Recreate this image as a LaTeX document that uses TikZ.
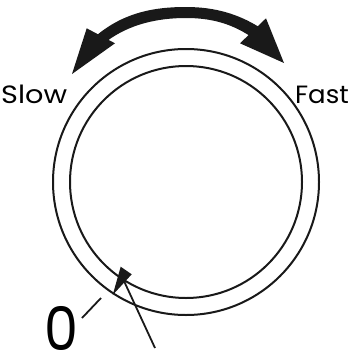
\documentclass[tikz,border=0pt]{standalone}
\usepackage{fontspec}
\setmainfont{Poppins}
\begin{document}
\begin{tikzpicture}[x=1pt,y=-1pt,
  ring/.style={draw=black!90,line width=2pt},
  solidfill/.style={fill=black!90,draw=none},
  thinline/.style={draw=black!90,line width=1.8pt},
  lbl/.style={inner sep=0pt,font=\fontsize{25}{25}\selectfont}]
\useasboundingbox (0,0) rectangle (351,356);
% dial
\coordinate (c) at (186,182);
\draw[ring] (c) circle[radius=133];
\draw[ring] (c) circle[radius=116];
% double arrow
\fill[solidfill] (97,35) .. controls (125,12) and (155,7) .. (186,7)
  .. controls (215,7) and (238,14) .. (259,27) -- (250,36)
  .. controls (230,23) and (210,18) .. (186,18)
  .. controls (158,18) and (130,24) .. (107,41) -- cycle;
\fill[solidfill] (72,74) -- (86.7,28.3) -- (115,43.3) -- cycle;
\fill[solidfill] (284,63) -- (266,18.3) -- (240,43.3) -- cycle;
% labels
\node[lbl,anchor=base west] (slow) at (1,103) {\scalebox{1.15}[1]{Slow}};
\node[lbl,anchor=base east] (fast) at (349,103) {\scalebox{1.04}[1]{Fast}};
\node[inner sep=0pt,anchor=base west,font=\fontsize{60}{60}\selectfont] (zero) at (44,350) {\scalebox{0.9}[1]{0}};
% tick
\coordinate (t1) at (82,318);
\coordinate (t2) at (101,298);
\draw[thinline] (t1) -- (t2);
% index mark and leader
\fill[solidfill] (120.7,266.7) -- (131.7,274.3) -- (112.7,295) -- cycle;
\coordinate (m) at (124,281);
\coordinate (lead) at (155,348);
\draw[thinline] (lead) -- (m);
\end{tikzpicture}
\end{document}
